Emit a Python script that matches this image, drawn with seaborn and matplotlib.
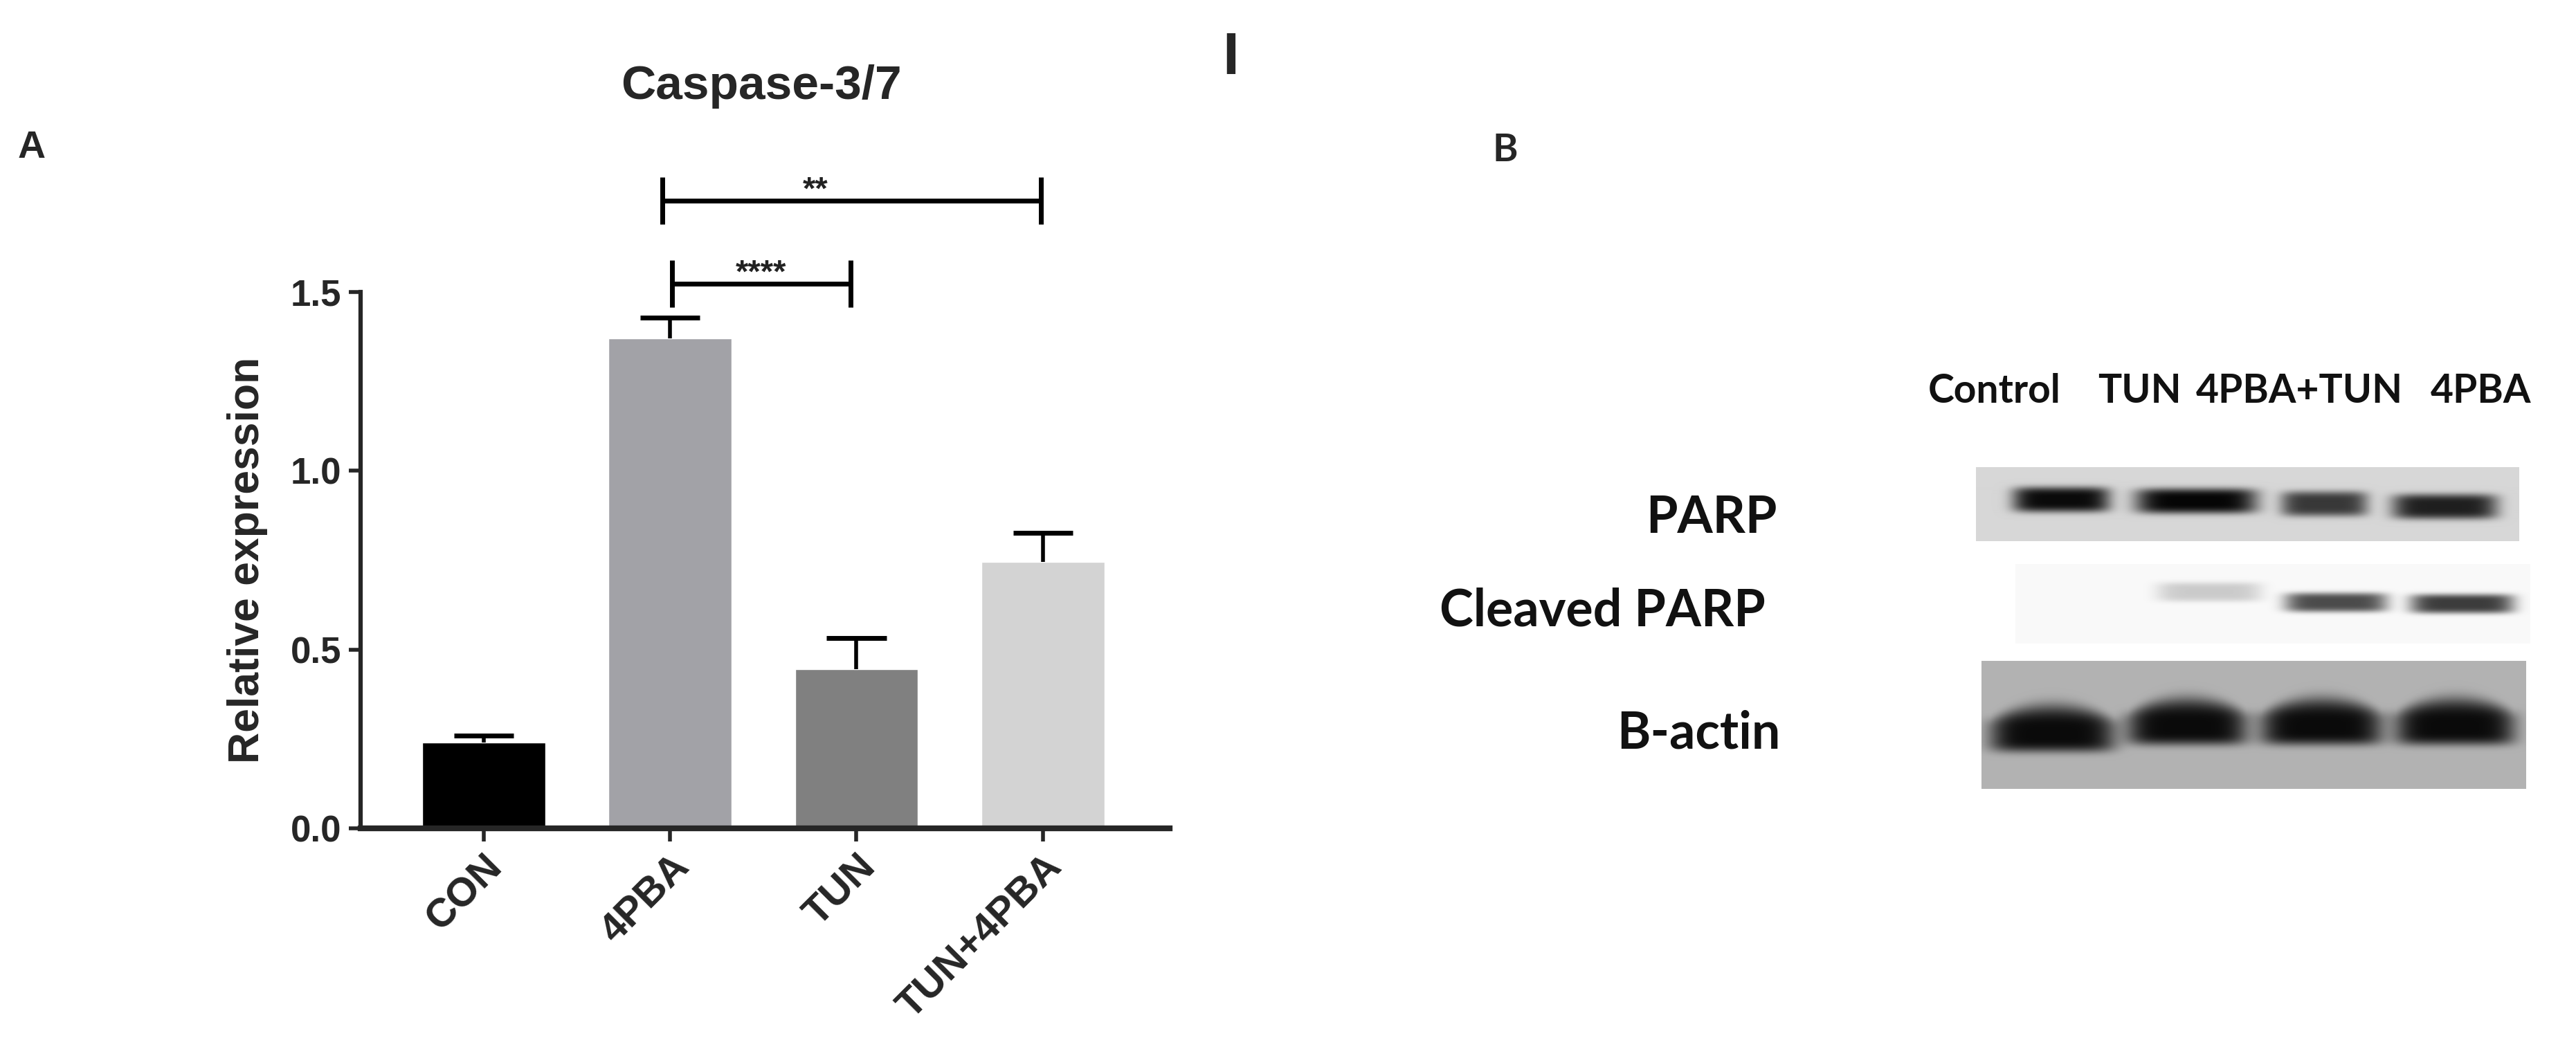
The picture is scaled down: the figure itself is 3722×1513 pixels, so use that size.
import numpy as np
import pandas as pd
import seaborn as sns
import matplotlib
matplotlib.use("Agg")
from matplotlib import pyplot as plt

sns.set_style("ticks")
plt.rcParams['font.family'] = ['Liberation Sans', 'DejaVu Sans']

# data
groups = ["CON", "4PBA", "TUN", "TUN+4PBA"]
means = [0.24, 1.37, 0.445, 0.745]
errors = [0.02, 0.058, 0.087, 0.082]
bar_colors = ["#000000", "#a2a2a7", "#808080", "#d3d3d3"]
sig_pairs = [(0.96, 2.99, 1.755, "**"), (1.01, 1.97, 1.523, "****")]

lanes = ["Control", "TUN", "4PBA+TUN", "4PBA"]
blots = ["PARP", "Cleaved PARP", "B-actin"]
parp_level = [0.80, 0.82, 0.62, 0.72]
cleaved_level = [0.0, 0.18, 0.68, 0.74]
actin_level = [0.66, 0.66, 0.66, 0.66]

W, H = 3722, 1513
fig = plt.figure(figsize=(W / 100, H / 100), dpi=100)

# ---- panel A : bar chart
ax = fig.add_axes([521 / W, (H - 1197) / H, (1690 - 521) / W, (1197 - 241) / H])
df = pd.DataFrame({"group": groups, "value": means})
sns.barplot(data=df, x="group", y="value", hue="group", palette=bar_colors,
            saturation=1, width=0.66, errorbar=None, legend=False, ax=ax)

# one-sided (upper) error bars, no cap at the bar top
xpos = np.arange(len(groups))
tops = np.array(means) + np.array(errors)
ax.vlines(xpos, means, tops, color="black", lw=4, zorder=3)
ax.hlines(tops, xpos - 0.16, xpos + 0.16, color="black", lw=5, zorder=3)

for x1, x2, y, txt in sig_pairs:
    ax.plot([x1, x2], [y, y], color="black", lw=5, clip_on=False, solid_capstyle="butt")
    for xx in (x1, x2):
        ax.plot([xx, xx], [y - 0.066, y + 0.066], color="black", lw=5, clip_on=False,
                solid_capstyle="butt")
    xt = (x1 + x2) / 2 if len(txt) > 2 else 1.78
    ax.text(xt, y - 0.015, txt, ha="center", va="bottom", fontsize=34,
            fontweight="bold", color="#222222")

ax.set_xlim(-0.66, 3.68)
ax.set_ylim(0, 1.85)
ax.set_yticks([0, 0.5, 1.0, 1.5])
ax.set_yticklabels(["0.0", "0.5", "1.0", "1.5"])
ax.spines["top"].set_visible(False)
ax.spines["right"].set_visible(False)
ax.spines["left"].set_bounds(0, 1.5)
ax.spines["left"].set_linewidth(4.5)
ax.spines["bottom"].set_linewidth(6)
ax.tick_params(axis="y", length=12, width=4, pad=8, labelsize=38)
ax.tick_params(axis="x", length=14, width=4, pad=6, labelsize=42)
for lab in ax.get_yticklabels():
    lab.set_fontweight("bold")
for lab in ax.get_xticklabels():
    lab.set_fontweight("bold")
    lab.set_rotation(45)
    lab.set_ha("right")
    lab.set_va("top")
    lab.set_rotation_mode("anchor")
ax.set_xlabel("")
ax.set_ylabel("Relative expression", fontsize=45, fontweight="bold")
ax.yaxis.set_label_coords(-0.115, 0.75 / 1.85)

fig.text(1100 / W, 1 - 125 / H, "Caspase-3/7", ha="center", va="center",
         fontsize=50, fontweight="bold")
fig.text(46 / W, 1 - 214 / H, "A", ha="center", va="center", fontsize=40, fontweight="bold")
fig.text(1778 / W, 1 - 85 / H, "I", ha="center", va="center", fontsize=62, fontweight="bold")

# ---- panel B : western blot
fig.text(2175 / W, 1 - 217 / H, "B", ha="center", va="center", fontsize=40,
         fontweight="bold", family=["Lato", "DejaVu Sans"])
lane_x = [2882, 3091, 3322, 3585]
for lx, name in zip(lane_x, lanes):
    fig.text(lx / W, 1 - 565 / H, name, ha="center", va="center", fontsize=41,
             fontweight="bold", family=["Lato", "DejaVu Sans"], color="#111111")
label_y = [748, 883, 1060]
label_x = [2568, 2551, 2572]
for lx, ly, name in zip(label_x, label_y, blots):
    fig.text(lx / W, 1 - ly / H, name, ha="right", va="center", fontsize=53,
             fontweight="bold", family=["Lato", "DejaVu Sans"], color="#111111")

axb = fig.add_axes([2840 / W, (H - 1160) / H, (3670 - 2840) / W, (1160 - 660) / H])
axb.set_xlim(2840, 3670)
axb.set_ylim(1160, 660)
axb.axis("off")


def strip(x0, x1, y0, y1, bg, centers, widths, yc, hh, levels, dome=0.0):
    xs = np.arange(x0, x1)
    ys = np.arange(y0, y1)
    X, Y = np.meshgrid(xs, ys)
    img = np.full(X.shape, bg, dtype=float)
    for c, w, yy, lev in zip(centers, widths, yc, levels):
        u = (X - c) / (w / 2)
        px = np.exp(-u ** 6)
        top = hh * (1 + dome * (1 - np.clip(u ** 2, 0, 1)))
        d = np.where(Y < yy, (yy - Y) / top, (Y - yy) / hh)
        py = np.exp(-d ** 4)
        img -= lev * px * py
    img = np.clip(img, 0, 1)
    axb.imshow(img, cmap="gray", vmin=0, vmax=1, interpolation="bilinear",
               extent=(x0, x1, y1, y0), aspect="auto")


strip(2855, 3640, 676, 782, 0.84, [2978, 3173, 3358, 3532], [140, 175, 125, 152],
      [722, 724, 728, 732], 18, parp_level)
strip(2912, 3656, 815, 930, 0.975, [2978, 3192, 3375, 3557], [140, 150, 148, 150],
      [870, 855, 870, 872], 14, cleaved_level)
strip(2863, 3650, 955, 1140, 0.70, [2965, 3160, 3354, 3547], [180, 172, 175, 172],
      [1062, 1052, 1052, 1052], 24, actin_level, dome=0.8)

fig.savefig("out.png", dpi=100, facecolor="white")
